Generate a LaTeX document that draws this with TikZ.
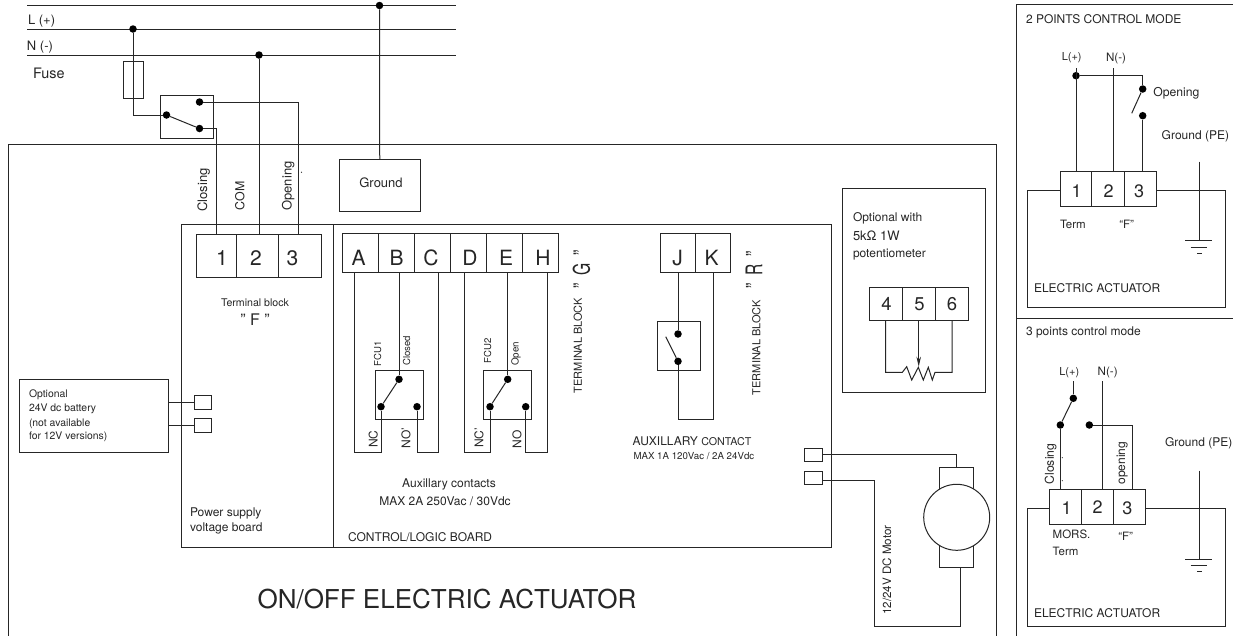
\documentclass[tikz,border=0pt]{standalone}
\usepackage{fontspec}
\setmainfont{TeX Gyre Heros}
\usetikzlibrary{arrows.meta}
\newcommand\fs[1]{\fontsize{#1}{#1}\selectfont}
\newcommand\cell[5]{\node[cellbox,minimum width={#4pt-#2pt},minimum height={#5pt-#3pt}] (#1) at ({(#2+#4)/2},{(#3+#5)/2}) {};}
\newcommand\lab[5][]{\node[txt,font=\fs{#3},anchor=base west,yshift={-0.36*#3pt},#1] (#2) at (#4) {#5};}
\newcommand\cen[5][]{\node[txt,font=\fs{#3},anchor=base,yshift={-0.36*#3pt},#1] (#2) at (#4) {#5};}
\newcommand\vlab[5][]{\node[txt,font=\fs{#3},anchor=base,xshift={0.36*#3pt},rotate=90,#1] (#2) at (#4) {#5};}
\definecolor{ink}{HTML}{262626}
\tikzset{
  wire/.style={draw=ink,line width=1pt,line join=miter},
  cellbox/.style={draw=ink,line width=1pt,inner sep=0pt,outer sep=0pt,rectangle},
  dotn/.style={circle,fill=black,inner sep=0pt,minimum size=7.5pt},
  txt/.style={inner sep=0pt,outer sep=0pt,text=ink},
  speck/.style={fill=ink}
}
\begin{document}
\begin{tikzpicture}[x=1pt,y=-1pt]
\useasboundingbox (0,0) rectangle (1233,635);
\fill[white] (0,0) rectangle (1233,635);
% --- supply lines
\coordinate (a1) at (27,5.5); \coordinate (a2) at (456,5.5);
\coordinate (b1) at (27,29); \coordinate (b2) at (456,29);
\coordinate (c1) at (27,55); \coordinate (c2) at (456,55);
\draw[wire] (a1)--(a2); \draw[wire] (b1)--(b2); \draw[wire] (c1)--(c2);
\node[dotn] (dE) at (379.5,5.5) {};
\node[dotn] (dL) at (133,29) {};
\node[dotn] (dN) at (259,55) {};
\lab{tL}{13}{28,20}{L (+)}
\lab{tN}{13}{27,46}{N (-)}
\lab{tF}{14.4}{33,73}{Fuse}
% --- main frame
\coordinate (o1) at (8.5,640); \coordinate (o2) at (8.5,144.5); \coordinate (o3) at (996.7,144.5); \coordinate (o4) at (996.7,640);
\draw[wire] (o1)--(o2)--(o3)--(o4);
% --- fuse and switch
\cell{fuse}{123}{61.5}{143}{98}
\cell{swbox}{160}{95.5}{213}{138}
\node[dotn] (swC) at (166.5,115) {};
\node[dotn] (swO) at (199.5,102) {};
\node[dotn] (swN) at (199.5,128.5) {};
\draw[wire] (swC)--(swN);
% --- boards
\cell{psu}{181.5}{224}{333}{547.7}
\cell{logic}{333}{224}{831.7}{547.7}
\cell{gnd}{339.5}{159}{420}{211}
\cen{tGnd}{13}{381,183}{Ground}
% --- terminal block F
\cell{t1}{196}{234}{236}{277}
\cell{t2}{236}{234}{278.7}{277}
\cell{t3}{278.7}{234}{321.7}{277}
\cen{n1}{21}{222,257.5}{1}
\cen{n2}{21}{256,257.5}{2}
\cen{n3}{21}{292.5,257.5}{3}
\coordinate (t1top) at (216,234); \coordinate (t2top) at (259,234); \coordinate (t3top) at (298.5,234);
\draw[wire] (dL) |- (swC);
\draw[wire] (swO) -| (t3top);
\draw[wire] (swN) -| (t1top);
\draw[wire] (dN) -- (t2top);
\draw[wire] (dE) -- (gnd.north);
\vlab{tCl}{13}{202.5,190}{Closing}
\vlab{tCo}{12.4}{240,196}{COM}
\vlab{tOp}{13}{287,186}{Opening}
\fill[speck] (301.5,172.3) circle (0.6);
\cen{tTb}{10.6}{255,303}{Terminal block}
\cen{tFq}{16}{255,319.5}{" F "}
% --- terminal block G
\cell{gA}{342.3}{233.3}{378.7}{272.7}
\cell{gB}{378.7}{233.3}{414.7}{272.7}
\cell{gC}{414.7}{233.3}{450.7}{272.7}
\cell{gD}{450.7}{233.3}{486.7}{272.7}
\cell{gE}{486.7}{233.3}{522.7}{272.7}
\cell{gH}{522.7}{233.3}{558.7}{272.7}
\cen{lA}{21}{358.5,258}{A}
\cen{lB}{21}{396.5,258}{B}
\cen{lC}{21}{431,258}{C}
\cen{lD}{21}{470,258}{D}
\cen{lE}{21}{506,258}{E}
\cen{lH}{21}{543,258}{H}
\cell{fc1}{375}{370.3}{423.3}{419.3}
\cell{fc2}{483.3}{370.3}{531.7}{419.3}
\node[dotn] (f1c) at (381,406.7) {};
\node[dotn] (f1t) at (399,379.3) {};
\node[dotn] (f1o) at (417,406.7) {};
\node[dotn] (f2c) at (490,406.7) {};
\node[dotn] (f2t) at (507.7,379.3) {};
\node[dotn] (f2o) at (525.7,406.7) {};
\draw[wire] (f1c)--(f1t); \draw[wire] (f2c)--(f2t);
\coordinate (wA) at (354,272.7); \coordinate (wAb) at (354,452.7);
\coordinate (wB) at (399,272.7);
\coordinate (wC) at (438.3,272.7); \coordinate (wCb) at (438.3,452.7);
\coordinate (wD) at (464,272.7); \coordinate (wDb) at (464,452.7);
\coordinate (wE) at (507.7,272.7);
\coordinate (wH) at (547.7,272.7); \coordinate (wHb) at (547.7,452.7);
\draw[wire] (wA)--(wAb)-|(f1c);
\draw[wire] (wB)--(f1t);
\draw[wire] (wC)--(wCb)-|(f1o);
\draw[wire] (wD)--(wDb)-|(f2c);
\draw[wire] (wE)--(f2t);
\draw[wire] (wH)--(wHb)-|(f2o);
\vlab{tFc1}{9.6}{377.7,354}{FCU1}
\vlab{tCd}{9.6}{406.7,350.7}{Closed}
\vlab{tFc2}{9.6}{487.7,351}{FCU2}
\vlab{tOn}{9.8}{515,354}{Open}
\vlab{tNC}{12}{373.3,439}{NC}
\vlab{tNOa}{12}{406,438}{NO'}
\vlab{tNCb}{12}{479,438}{NC'}
\vlab{tNOb}{12}{517,439}{NO}
\vlab{tTBg}{11}{578,345.5}{TERMINAL BLOCK}
\vlab{tG}{23}{581.5,269.5}{\scalebox{0.68}[1]{"\hspace{.5em}G\hspace{.5em}"}}
\cen{tAx}{12}{449,483.5}{Auxillary contacts}
\cen{tMx}{12}{445,501}{MAX 2A 250Vac / 30Vdc}
\lab{tCB}{12}{348,537}{CONTROL/LOGIC BOARD}
% --- terminal block R
\cell{gJ}{660.7}{233.3}{695.7}{272.7}
\cell{gK}{695.7}{233.3}{730.7}{272.7}
\cen{lJ}{21}{677.5,258}{J}
\cen{lK}{21}{711.5,258}{K}
\cell{rsw}{657}{321.7}{700.7}{370.7}
\node[dotn] (rt) at (678,334) {};
\node[dotn] (rb) at (678,361.3) {};
\coordinate (rbl) at (665.7,336.7);
\draw[wire] (rb)--(rbl);
\coordinate (wJ) at (678,272.7);
\coordinate (wK) at (713,272.7); \coordinate (wKb) at (713,419.3);
\draw[wire] (wJ)--(rt);
\draw[wire] (wK)--(wKb)-|(rb);
\vlab{tTBr}{11}{756.5,347.5}{TERMINAL BLOCK}
\vlab{tR}{23}{754,269.5}{\scalebox{0.68}[1]{"\hspace{.5em}R\hspace{.5em}"}}
\node[txt,anchor=base west,yshift=-4.3pt,font=\fs{12}] (tAc) at (632.7,441) {AUXILLARY {\fs{10.7}CONTACT}};
\lab{tMa}{9.7}{633.5,456}{MAX 1A 120Vac / 2A 24Vdc}
% --- potentiometer
\cell{pot}{842.7}{188.3}{985}{392.7}
\lab{tO1}{12}{853,217.5}{Optional with}
\lab{tO2}{13}{853,236}{5k\char"03A9{} 1W}
\lab{tO3}{12}{853,253.5}{potentiometer}
\cell{p4}{869.3}{287}{902.3}{320}
\cell{p5}{902.3}{287}{935.7}{320}
\cell{p6}{935.7}{287}{968.7}{320}
\cen{l4}{18.5}{886.5,304}{4}
\cen{l5}{18.5}{919.5,304}{5}
\cen{l6}{18.5}{952,304}{6}
\coordinate (w4) at (885.7,320); \coordinate (w5) at (918.7,320); \coordinate (w6) at (952,320);
\coordinate (rL) at (902.3,372.3); \coordinate (rR) at (935,372.3); \coordinate (tip) at (918.7,366.7);
\draw[wire] (w4) |- (rL) -- (906.7,366.7) -- (911.7,380) -- (918.3,367.3) -- (923.3,380) -- (928.3,367.3) -- (932.3,380) -- (rR) -| (w6);
\draw[wire,-{Stealth[length=10pt,width=4.5pt]}] (w5)--(tip);
% --- motor
\cell{mc1}{804.7}{448}{822}{461.7}
\cell{mc2}{804.7}{471}{822}{484.3}
\cell{brush}{939.7}{467.7}{973.3}{567.3}
\node[circle,draw=ink,fill=white,line width=1pt,minimum size=66pt,inner sep=0pt] (mot) at (956.7,517.3) {};
\coordinate (m1) at (822,454.5); \coordinate (m1t) at (956.7,467.7);
\coordinate (m2) at (822,480.7); \coordinate (m2c) at (874,626.7); \coordinate (m2b) at (960,567.3);
\draw[wire] (m1) -| (m1t);
\draw[wire] (m2) -| (m2c) -| (m2b);
\vlab{tMot}{11.6}{887,570}{12/24V DC Motor}
\cen{tTitle}{26}{447,599}{ON/OFF ELECTRIC ACTUATOR}
% --- battery
\cell{bat}{19.7}{379.3}{168.3}{452.3}
\lab{tB1}{10.4}{29,394}{Optional}
\lab{tB2}{10.4}{29,407.5}{24V dc battery}
\lab{tB3}{10.4}{29,422.5}{(not available}
\lab{tB4}{10.4}{29,436}{for 12V versions)}
\cell{bc1}{194.3}{395.7}{211.3}{409.3}
\cell{bc2}{194.3}{418.7}{211.3}{432}
\coordinate (bw1) at (168.3,402.3); \coordinate (bw2) at (168.3,425.3);
\coordinate (bc1w) at (194.3,402.3); \coordinate (bc2w) at (194.3,425.3);
\draw[wire] (bw1)--(bc1w); \draw[wire] (bw2)--(bc2w);
\lab{tP1}{12}{190,512.5}{Power supply}
\lab{tP2}{12}{190,527.5}{voltage board}
% --- right panels frame
\coordinate (f1) at (1016.7,640); \coordinate (f2) at (1016.7,4.5); \coordinate (f3) at (1233,4.5);
\coordinate (f4) at (1016.7,318); \coordinate (f5) at (1233,318);
\draw[wire] (f1)--(f2)--(f3); \draw[wire] (f4)--(f5);
% --- 2 points panel
\lab{pa}{12}{1026,19.5}{2 POINTS CONTROL MODE}
\cen{pb}{11}{1071.7,57}{L(+)}
\cen{pc}{11.6}{1116,57}{N(-)}
\lab{pd}{12.2}{1153.3,92.5}{Opening}
\lab{pe}{12}{1161.7,135}{Ground (PE)}
\cell{a1c}{1060}{171.7}{1091.7}{206}
\cell{a2c}{1091.7}{171.7}{1124}{206}
\cell{a3c}{1124}{171.7}{1156}{206}
\cen{an1}{18}{1076.7,191.5}{1}
\cen{an2}{18}{1108.7,191.5}{2}
\cen{an3}{18}{1139,191.5}{3}
\node[dotn] (ad0) at (1076,75.7) {};
\node[dotn] (ad1) at (1142.7,89) {};
\node[dotn] (ad2) at (1142.7,115.7) {};
\coordinate (al0) at (1076,68); \coordinate (al1) at (1076,171.7);
\coordinate (an0) at (1113.3,68); \coordinate (an9) at (1113.3,171.7);
\coordinate (ab) at (1131.7,113.3); \coordinate (a39) at (1142.7,171.7);
\draw[wire] (al0)--(al1); \draw[wire] (an0)--(an9);
\draw[wire] (ad0)-|(ad1); \draw[wire] (ad1)--(ab); \draw[wire] (ad2)--(a39);
\coordinate (ea1) at (1060,190); \coordinate (ea2) at (1027.3,190); \coordinate (ea3) at (1027.3,307.3);
\coordinate (ea4) at (1225.7,307.3); \coordinate (ea5) at (1225.7,190); \coordinate (ea6) at (1156,190);
\draw[wire] (ea1)--(ea2)--(ea3)--(ea4)--(ea5)--(ea6);
\coordinate (ag0) at (1199,161.7); \coordinate (ag1) at (1199,240.7);
\draw[wire] (ag0)--(ag1);
\draw[wire] (1185,240.7)--(1212.3,240.7);
\draw[wire] (1190.5,247.3)--(1207,247.3);
\draw[wire] (1197,253.3)--(1201.5,253.3);
\lab{pf}{11.5}{1060,224.5}{Term}
\cen{pg}{11.5}{1126.7,224.5}{“F”}
\lab{ph}{12}{1034,288.5}{ELECTRIC ACTUATOR}
% --- 3 points panel
\lab{qa}{12}{1026,330.7}{3 points control mode}
\cen{qb}{11}{1069.3,371.7}{L(+)}
\cen{qc}{11.6}{1107.7,371.7}{N(-)}
\lab{qe}{12}{1165,441.7}{Ground (PE)}
\cell{b1c}{1049.3}{489.3}{1081.3}{524}
\cell{b2c}{1081.3}{489.3}{1113.7}{524}
\cell{b3c}{1113.7}{489.3}{1145.7}{524}
\cen{bn1}{18}{1066.7,508}{1}
\cen{bn2}{18}{1097.7,507}{2}
\cen{bn3}{18}{1127.3,508}{3}
\node[dotn] (bd0) at (1073.3,398.3) {};
\node[dotn] (bd1) at (1060.3,425) {};
\node[dotn] (bd2) at (1089.3,425) {};
\coordinate (bl0) at (1073.3,381); \coordinate (bl1) at (1060.3,489.3);
\coordinate (bn0) at (1102.7,381); \coordinate (bn9) at (1102.7,489.3);
\coordinate (b39) at (1132,489.3);
\draw[wire] (bl0)--(bd0); \draw[wire] (bd0)--(bd1); \draw[wire] (bd1)--(bl1);
\draw[wire] (bn0)--(bn9); \draw[wire] (bd2)-|(b39);
\coordinate (eb1) at (1049.3,508); \coordinate (eb2) at (1027.3,508); \coordinate (eb3) at (1027.3,626);
\coordinate (eb4) at (1225.7,626); \coordinate (eb5) at (1225.7,508); \coordinate (eb6) at (1145.7,508);
\draw[wire] (eb1)--(eb2)--(eb3)--(eb4)--(eb5)--(eb6);
\coordinate (bg0) at (1199,470.7); \coordinate (bg1) at (1199,559.3);
\draw[wire] (bg0)--(bg1);
\draw[wire] (1185,559.3)--(1212.3,559.3);
\draw[wire] (1190.5,565.3)--(1207,565.3);
\draw[wire] (1197,571)--(1201.5,571);
\vlab{qCl}{12.2}{1049.5,464}{Closing}
\vlab{qOp}{12}{1120.7,463}{opening}
\fill[speck] (1062.3,457.7) circle (0.6);
\fill[speck] (1062.3,480.7) circle (0.6);
\lab{qf}{11.5}{1052.7,534}{MORS.}
\lab{qg}{11.5}{1052.7,551.7}{Term}
\cen{qh}{11.5}{1125.7,536.7}{“F”}
\lab{qi}{12}{1034,612.7}{ELECTRIC ACTUATOR}
\end{tikzpicture}
\end{document}
